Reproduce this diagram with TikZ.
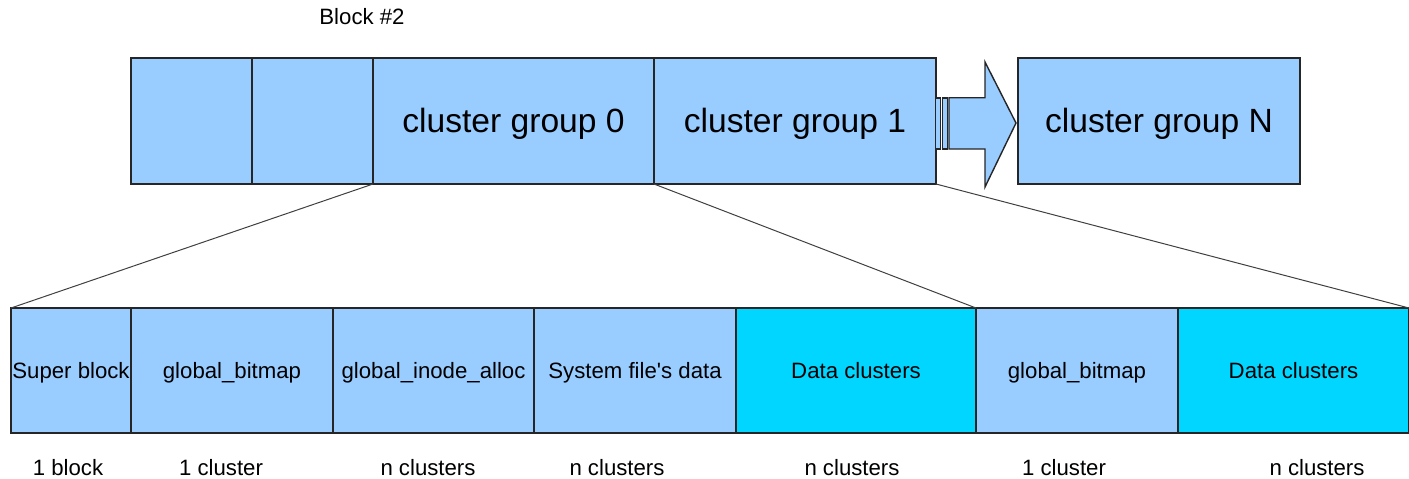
\documentclass[tikz,border=0pt]{standalone}
\usepackage{fontspec}
\setmainfont{Liberation Sans}
\usetikzlibrary{positioning}
\definecolor{lightblue}{HTML}{99CCFF}
\definecolor{cyanfill}{RGB}{0,214,255}

\begin{document}
\begin{tikzpicture}[x=0.5pt,y=-0.5pt,
  node distance=0pt,
  blk/.style={draw=black!85,fill=lightblue,line width=0.7pt,outer sep=0pt,
    inner sep=0pt,minimum height=63pt},
  data/.style={blk,fill=cyanfill},
  big/.style={font=\fontsize{16.8}{20}\selectfont,text height=15pt,text depth=3.5pt},
  sml/.style={font=\fontsize{11.1}{13}\selectfont},
  cell/.style={sml,text height=10pt,text depth=2.3pt,minimum height=62.5pt},
  zoomline/.style={draw=black!75,line width=0.5pt}]
\useasboundingbox (0,0) rectangle (1409,478);

% top row
\node[sml] (blocklbl) at (362,17) {Block \#2};
\node[blk,minimum width=60.5pt] (b0) at (191.5,121) {};
\node[blk,minimum width=60.5pt,right=of b0] (b1) {};
\node[blk,big,minimum width=140.5pt,right=of b1] (cg0) {cluster group 0};
\node[blk,big,minimum width=141pt,right=of cg0] (cg1) {cluster group 1};
\node[blk,minimum width=2.5pt,minimum height=25.5pt] (bar1) at (938,123.3) {};
\node[blk,minimum width=2.5pt,minimum height=25.5pt] (bar2) at (945,123.3) {};
\draw[blk] (949,97.7) -- (985,97.7) -- (985,62) -- (1016,123)
  -- (985,187) -- (985,149) -- (949,149) -- cycle;
\node[blk,big,minimum width=141pt] (cgN) at (1159,121) {cluster group N};

% bottom row
\node[blk,cell,minimum width=60pt] (sb) at (71,370.5) {Super block};
\node[blk,cell,minimum width=101pt,right=of sb] (gb) {global\_bitmap};
\node[blk,cell,minimum width=100.5pt,right=of gb] (gia) {global\_inode\_alloc};
\node[blk,cell,minimum width=101pt,right=of gia] (sfd) {System file\textquotesingle s data};
\node[data,cell,minimum width=120pt,right=of sfd] (dc) {Data clusters};
\node[blk,cell,minimum width=101pt,right=of dc] (gb2) {global\_bitmap};
\node[data,cell,minimum width=115.5pt,right=of gb2] (dc2) {Data clusters};

% sizes
\node[sml] (szsb) at (68,468) {1 block};
\node[sml] (szgb) at (221,468) {1 cluster};
\node[sml] (szgia) at (428,468) {n clusters};
\node[sml] (szsfd) at (617,468) {n clusters};
\node[sml] (szdc) at (852,468) {n clusters};
\node[sml] (szgb2) at (1064,468) {1 cluster};
\node[sml] (szdc2) at (1317,468) {n clusters};

% zoom lines
\draw[zoomline] (cg0.south west) -- (sb.north west);
\draw[zoomline] (cg1.south west) -- (dc.north east);
\draw[zoomline] (cg1.south east) -- (dc2.north east);
\end{tikzpicture}
\end{document}
